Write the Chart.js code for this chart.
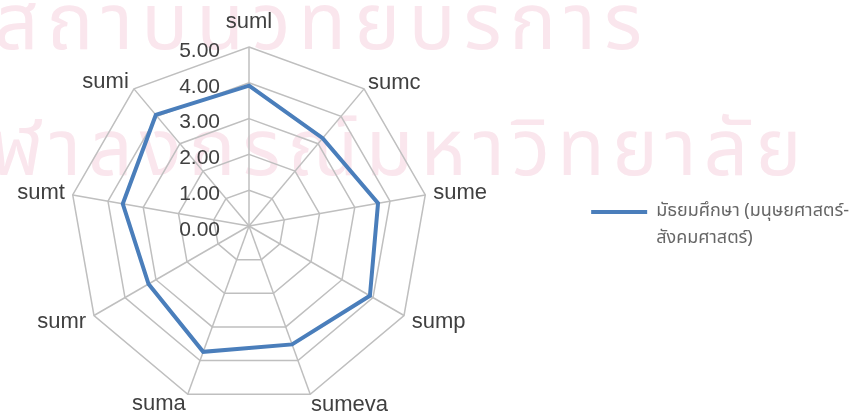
<!DOCTYPE html>
<html>
<head>
<meta charset="utf-8">
<script src="https://cdn.jsdelivr.net/npm/chart.js@4/dist/chart.umd.min.js"></script>
<style>
  html, body { margin: 0; padding: 0; background: #fff; }
  #wrap { position: relative; width: 856px; height: 412px; overflow: hidden; }
  .wm { position: absolute; color: #fae6ed; font-family: Tahoma, "Noto Sans Thai", "DejaVu Sans", sans-serif;
        white-space: nowrap; line-height: 1; }
  /* canvas is a bit larger than the page so the radar can sit where the original does */
  #chart { position: absolute; left: -82px; top: -3px; }
</style>
</head>
<body>
<div id="wrap">
  <div class="wm" style="top:-14px; left:-6px; font-size:78px; letter-spacing:8px;">สถาบันวิทยบริการ</div>
  <div class="wm" style="top:112px; left:-58px; font-size:78px; letter-spacing:7px;">จุฬาลงกรณ์มหาวิทยาลัย</div>
  <canvas id="chart" width="941" height="430"></canvas>
</div>
<script>
const categories = ['suml', 'sumc', 'sume', 'sump', 'sumeva', 'suma', 'sumr', 'sumt', 'sumi'];
const seriesValues = [3.92, 3.20, 3.66, 3.90, 3.52, 3.74, 3.24, 3.58, 4.05];
const seriesLabel = ['มัธยมศึกษา (มนุษยศาสตร์-', 'สังคมศาสตร์)'];

// per-label padding / line height so the labels sit round the vertices as in Excel
const labelPad = [14, 6, 8, 9, 2, 6, 9, 8, 8];
const labelLineHeight = [1, 0.1, 0.05, 0.18, 0.8, 0.36, 0.18, 0.05, 0.1];

// tick labels drawn left of the vertical axis, like the Excel original
const tickLabelsLeft = {
    id: 'tickLabelsLeft',
    afterDatasetsDraw(chart) {
        const scale = chart.scales.r;
        const ctx = chart.ctx;
        ctx.save();
        ctx.font = '21px "Liberation Sans", Arial, sans-serif';
        ctx.fillStyle = '#404040';
        ctx.textAlign = 'right';
        ctx.textBaseline = 'middle';
        scale.ticks.forEach((tick) => {
            const d = scale.getDistanceFromCenterForValue(tick.value);
            ctx.fillText(tick.value.toFixed(2), scale.xCenter - 29, scale.yCenter - d + 4);
        });
        ctx.restore();
    }
};

new Chart(document.getElementById('chart').getContext('2d'), {
    type: 'radar',
    data: {
        labels: categories,
        datasets: [{
            label: seriesLabel.join(''),
            data: seriesValues,
            borderColor: '#4a7ebb',
            backgroundColor: '#4a7ebb',
            borderWidth: 4,
            fill: false,
            pointRadius: 0,
            tension: 0,
        }],
    },
    options: {
        responsive: false,
        animation: false,
        scales: {
            r: {
                min: 0,
                max: 5,
                ticks: { stepSize: 1, display: false },
                grid: { color: '#bfbfbf', lineWidth: 1.5 },
                angleLines: { color: '#bfbfbf', lineWidth: 1.5 },
                pointLabels: {
                    padding: (ctx) => labelPad[ctx.index],
                    color: '#404040',
                    font: (ctx) => ({
                        family: '"Liberation Sans", Arial, sans-serif',
                        size: 22,
                        lineHeight: labelLineHeight[ctx.index],
                    }),
                },
            },
        },
        plugins: {
            tooltip: { enabled: false },
            legend: {
                position: 'right',
                title: { display: true, text: ' ', font: { size: 20, lineHeight: 1.8 }, padding: 0 },
                labels: {
                    boxWidth: 56,
                    boxHeight: 4,
                    padding: 10,
                    color: '#262626',
                    font: { family: 'Tahoma, "Noto Sans Thai", "DejaVu Sans", sans-serif', size: 18, lineHeight: 1.5 },
                    generateLabels: (chart) => chart.data.datasets.map((ds, i) => ({
                        text: seriesLabel,
                        fillStyle: ds.borderColor,
                        strokeStyle: ds.borderColor,
                        lineWidth: 0,
                        datasetIndex: i,
                    })),
                },
            },
        },
    },
    plugins: [tickLabelsLeft],
});
</script>
</body>
</html>
